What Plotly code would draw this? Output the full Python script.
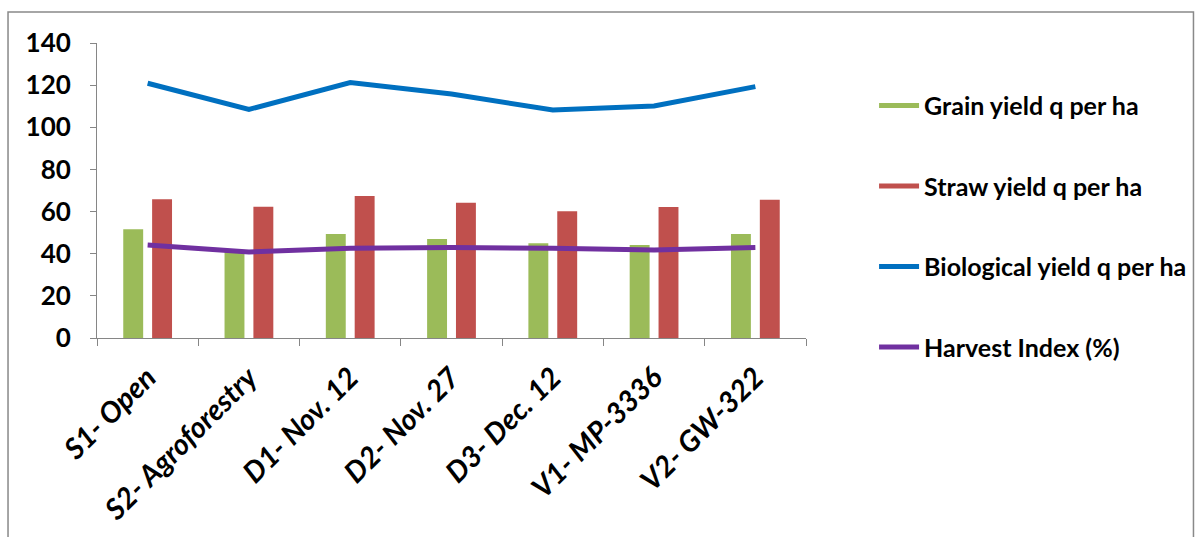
import plotly.graph_objects as go

categories = ["S1- Open", "S2- Agroforestry", "D1- Nov. 12", "D2- Nov. 27",
              "D3- Dec. 12", "V1- MP-3336", "V2- GW-322"]
grain_yield = [51.6, 41.5, 49.4, 47.0, 45.0, 44.1, 49.4]
straw_yield = [65.8, 62.3, 67.4, 64.2, 60.1, 62.2, 65.6]
biological_yield = [120.9, 108.5, 121.2, 115.8, 108.2, 110.1, 119.3]
harvest_index = [44.1, 40.8, 42.6, 42.9, 42.6, 41.8, 43.0]

GREEN = "#9BBB59"
RED = "#C0504D"
BLUE = "#0070C0"
PURPLE = "#7030A0"
FONT = "Lato"

fig = go.Figure()
fig.add_trace(go.Bar(x=categories, y=grain_yield, name="Grain yield q per ha",
                     marker=dict(color=GREEN, line=dict(width=0)), showlegend=False))
fig.add_trace(go.Bar(x=categories, y=straw_yield, name="Straw yield q per ha",
                     marker=dict(color=RED, line=dict(width=0)), showlegend=False))
# legend entries for bars (drawn as line keys like the reference)
fig.add_trace(go.Scatter(x=[None], y=[None], mode="lines", name="Grain yield q per ha",
                         line=dict(color=GREEN, width=5), legendgroup="g1"))
fig.add_trace(go.Scatter(x=[None], y=[None], mode="lines", name="Straw yield q per ha",
                         line=dict(color=RED, width=5), legendgroup="g2"))
fig.add_trace(go.Scatter(x=categories, y=biological_yield, mode="lines",
                         name="Biological yield q per ha",
                         line=dict(color=BLUE, width=5), legendgroup="g3"))
fig.add_trace(go.Scatter(x=categories, y=harvest_index, mode="lines",
                         name="Harvest Index (%)",
                         line=dict(color=PURPLE, width=5), legendgroup="g4"))

fig.update_layout(
    width=1197, height=537,
    margin=dict(l=97, r=391, t=43, b=199, autoexpand=False),
    paper_bgcolor="white", plot_bgcolor="white",
    barmode="group", bargap=0.43, bargroupgap=0.31,
    font=dict(family=FONT, color="black"),
    legend=dict(x=1.096, y=0.865, xanchor="left", yanchor="top",
                font=dict(family=FONT, size=25, color="black", weight="bold"),
                tracegroupgap=45, traceorder="grouped",
                bgcolor="rgba(0,0,0,0)", itemwidth=40),
    shapes=[dict(type="rect", xref="paper", yref="paper",
                 x0=-0.1255, x1=1.5465, y0=-0.75, y1=1.105,
                 line=dict(color="#898989", width=1.5), layer="below")],
)
fig.update_xaxes(
    automargin=False,
    showline=True, linecolor="#868686", linewidth=1,
    ticks="outside", ticklen=7, tickcolor="#868686", tickson="boundaries",
    tickangle=-45, showgrid=False, ticklabelstandoff=10,
    tickfont=dict(family=FONT, size=29, color="black", weight="bold", style="italic"),
)
fig.update_yaxes(
    automargin=False,
    range=[0, 140], dtick=20, showline=True, linecolor="#868686", linewidth=1,
    ticks="outside", ticklen=6, tickcolor="#868686", showgrid=False, zeroline=False,
    ticklabelstandoff=14,
    tickfont=dict(family=FONT, size=26, color="black", weight="bold"),
)

fig.write_html("out.html", config={"displayModeBar": False},
               post_script="document.body.style.margin='0';document.body.style.overflow='hidden';")
